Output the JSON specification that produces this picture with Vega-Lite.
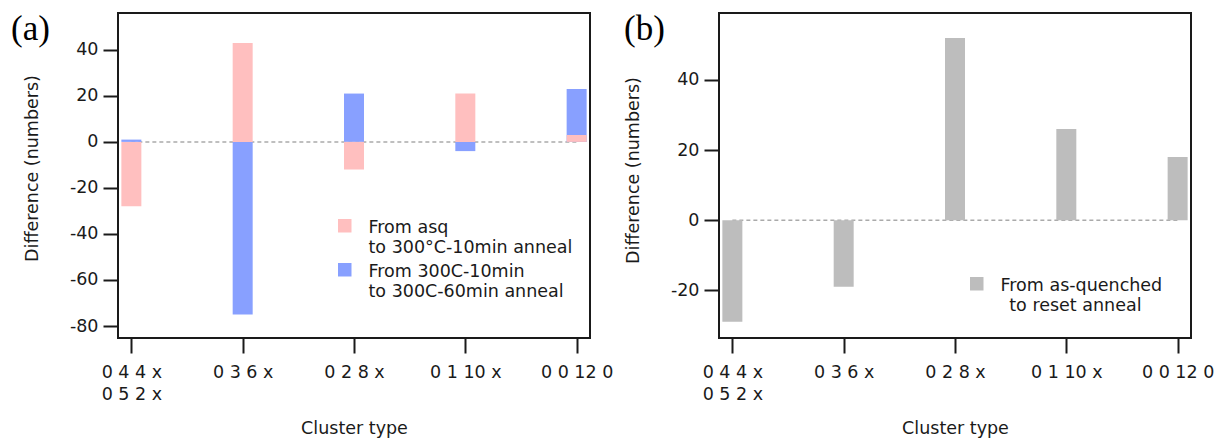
{
  "$schema": "https://vega.github.io/schema/vega-lite/v6.json",
  "padding": {"left": 10, "top": 11, "right": 0, "bottom": 0},
  "bounds": "flush",
  "spacing": 129,
  "resolve": {"scale": {"color": "independent"}, "legend": {"color": "independent"}},
  "config": {
    "font": "DejaVu Sans",
    "view": {"stroke": "#1a1a1a", "strokeWidth": 2},
    "axis": {
      "domain": false, "grid": false,
      "tickColor": "#1a1a1a", "tickWidth": 2, "tickSize": 15,
      "labelFont": "DejaVu Sans", "labelFontSize": 17.5, "labelColor": "#1a1a1a",
      "titleFont": "DejaVu Sans", "titleFontSize": 17.5, "titleFontWeight": "normal", "titleColor": "#1a1a1a"
    },
    "axisY": {"labelPadding": 5, "titlePadding": 28},
    "axisX": {"labelPadding": 10, "labelLineHeight": 22.7, "titlePadding": 16, "labelAngle": 0},
    "legend": {
      "orient": "none", "title": null, "padding": 0,
      "symbolType": "square", "symbolSize": 182, "symbolStrokeWidth": 0,
      "labelFont": "DejaVu Sans", "labelFontSize": 17.5, "labelColor": "#1a1a1a",
      "labelLimit": 0, "labelLineHeight": 23, "labelOffset": 15, "rowPadding": 4
    },
    "title": {"font": "Liberation Serif", "fontSize": 35, "fontWeight": "normal", "color": "#000000", "anchor": "start", "frame": "group", "orient": "top", "offset": -34, "baseline": "top"}
  },
  "datasets": {
    "a": [
      {"cluster": "0 4 4 x|0 5 2 x", "series": "From 300C-10min|to 300C-60min anneal", "diff": 1},
      {"cluster": "0 3 6 x", "series": "From 300C-10min|to 300C-60min anneal", "diff": -75},
      {"cluster": "0 2 8 x", "series": "From 300C-10min|to 300C-60min anneal", "diff": 21},
      {"cluster": "0 1 10 x", "series": "From 300C-10min|to 300C-60min anneal", "diff": -4},
      {"cluster": "0 0 12 0", "series": "From 300C-10min|to 300C-60min anneal", "diff": 23},
      {"cluster": "0 4 4 x|0 5 2 x", "series": "From asq|to 300°C-10min anneal", "diff": -28},
      {"cluster": "0 3 6 x", "series": "From asq|to 300°C-10min anneal", "diff": 43},
      {"cluster": "0 2 8 x", "series": "From asq|to 300°C-10min anneal", "diff": -12},
      {"cluster": "0 1 10 x", "series": "From asq|to 300°C-10min anneal", "diff": 21},
      {"cluster": "0 0 12 0", "series": "From asq|to 300°C-10min anneal", "diff": 3}
    ],
    "b": [
      {"cluster": "0 4 4 x|0 5 2 x", "series": "From as-quenched|\u200b\u2002to reset anneal", "diff": -29},
      {"cluster": "0 3 6 x", "series": "From as-quenched|\u200b\u2002to reset anneal", "diff": -19},
      {"cluster": "0 2 8 x", "series": "From as-quenched|\u200b\u2002to reset anneal", "diff": 52},
      {"cluster": "0 1 10 x", "series": "From as-quenched|\u200b\u2002to reset anneal", "diff": 26},
      {"cluster": "0 0 12 0", "series": "From as-quenched|\u200b\u2002to reset anneal", "diff": 18}
    ],
    "zero": [
      {"from": "0 4 4 x|0 5 2 x", "to": "0 0 12 0", "level": 0}
    ]
  },
  "hconcat": [
    {
      "width": 472, "height": 325,
      "title": {"text": "(a)", "dx": -107},
      "layer": [
        {
          "data": {"name": "zero"},
          "mark": {"type": "rule", "color": "#aaaaaa", "strokeWidth": 1.5, "strokeDash": [4, 3]},
          "encoding": {
            "x": {"field": "from", "type": "ordinal"},
            "x2": {"field": "to"},
            "y": {"field": "level", "type": "quantitative"}
          }
        },
        {
          "data": {"name": "a"},
          "mark": {"type": "bar", "width": 20},
          "encoding": {
            "x": {"field": "cluster", "type": "ordinal", "sort": null,
                  "scale": {"type": "point", "padding": 0.12, "domain": ["0 4 4 x|0 5 2 x", "0 3 6 x", "0 2 8 x", "0 1 10 x", "0 0 12 0"]},
                  "axis": {"title": "Cluster type", "labelExpr": "split(datum.label, '|')"}},
            "y": {"field": "diff", "type": "quantitative", "stack": null,
                  "scale": {"domain": [-85.2, 56], "nice": false, "zero": false},
                  "axis": {"title": "Difference (numbers)", "values": [-80, -60, -40, -20, 0, 20, 40], "titleY": 155, "labelExpr": "toString(datum.value)"}},
            "color": {"field": "series", "type": "nominal",
                      "scale": {"domain": ["From asq|to 300°C-10min anneal", "From 300C-10min|to 300C-60min anneal"], "range": ["#ffbfbf", "#88a0ff"]},
                      "legend": {"legendX": 218, "legendY": 204, "labelExpr": "split(datum.label, '|')",
                                 "encode": {"labels": {"update": {"dy": {"value": 2.5}}}}}}
          }
        }
      ]
    },
    {
      "width": 472, "height": 325,
      "title": {"text": "(b)", "dx": -95},
      "layer": [
        {
          "data": {"name": "zero"},
          "mark": {"type": "rule", "color": "#aaaaaa", "strokeWidth": 1.5, "strokeDash": [4, 3]},
          "encoding": {
            "x": {"field": "from", "type": "ordinal"},
            "x2": {"field": "to"},
            "y": {"field": "level", "type": "quantitative"}
          }
        },
        {
          "data": {"name": "b"},
          "mark": {"type": "bar", "width": 20},
          "encoding": {
            "x": {"field": "cluster", "type": "ordinal", "sort": null,
                  "scale": {"type": "point", "padding": 0.12, "domain": ["0 4 4 x|0 5 2 x", "0 3 6 x", "0 2 8 x", "0 1 10 x", "0 0 12 0"]},
                  "axis": {"title": "Cluster type", "labelExpr": "split(datum.label, '|')"}},
            "y": {"field": "diff", "type": "quantitative",
                  "scale": {"domain": [-33.6, 59.1], "nice": false, "zero": false},
                  "axis": {"title": "Difference (numbers)", "values": [-20, 0, 20, 40], "titleY": 157, "labelExpr": "toString(datum.value)"}},
            "color": {"field": "series", "type": "nominal",
                      "scale": {"range": ["#bdbdbd"]},
                      "legend": {"legendX": 249, "legendY": 262, "labelExpr": "split(datum.label, '|')",
                                 "encode": {"labels": {"update": {"dy": {"value": 2.5}}}}}}
          }
        }
      ]
    }
  ]
}
